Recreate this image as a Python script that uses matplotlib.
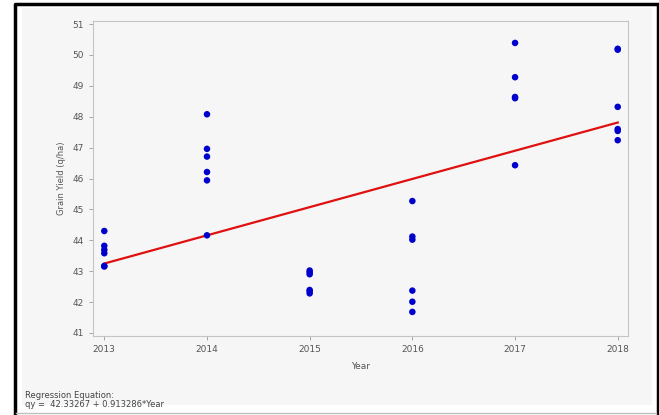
import matplotlib.pyplot as plt
from matplotlib.patches import Rectangle
from matplotlib.lines import Line2D
import numpy as np

years = [2013, 2014, 2015, 2016, 2017, 2018]
y2013 = [44.3, 43.82, 43.69, 43.58, 43.17, 43.15]
y2014 = [48.08, 46.96, 46.71, 46.21, 45.94, 44.16]
y2015 = [43.02, 42.9, 42.39, 42.28, 42.35, 42.96]
y2016 = [45.27, 44.12, 44.02, 42.37, 42.01, 41.68]
y2017 = [50.39, 49.28, 48.64, 48.6, 46.43]
y2018 = [50.17, 50.2, 48.32, 47.6, 47.54, 47.24]
yield_by_year = [y2013, y2014, y2015, y2016, y2017, y2018]

intercept = 42.33267
slope = 0.913286
y_ticks = [41, 42, 43, 44, 45, 46, 47, 48, 49, 50, 51]

W, H = 659, 415
fig = plt.figure(figsize=(W / 100, H / 100), dpi=100)
fig.patch.set_facecolor("white")

# outer frame and light panel (pixel coords -> figure coords)
def px_rect(x0, y0, x1, y1, **kw):
    return Rectangle((x0 / W, 1 - y1 / H), (x1 - x0) / W, (y1 - y0) / H,
                     transform=fig.transFigure, zorder=-10, **kw)

def px_line(xs, ys, **kw):
    return Line2D([x / W for x in xs], [1 - y / H for y in ys],
                  transform=fig.transFigure, zorder=-5, **kw)

fig.patches.append(px_rect(22, 8, 652, 405, facecolor="#f6f6f6", edgecolor="none"))
# black frame on top/left/right, grey line at the bottom
fig.lines.append(px_line([14.5, 14.5, 657.5, 657.5], [415, 4.5, 4.5, 415], color="black", linewidth=2.5))
fig.lines.append(px_line([16, 656], [413, 413], color="#c0c0c0", linewidth=1))

ax = fig.add_axes([93 / W, 1 - 336 / H, (628 - 93) / W, (336 - 21) / H])
ax.set_facecolor("#f6f6f6")

for yr, vals in zip(years, yield_by_year):
    ax.scatter([yr] * len(vals), vals, s=22, color="#0000cc", edgecolors="none", zorder=3)

idx = np.arange(1, len(years) + 1)
ax.plot(years, intercept + slope * idx, color="#e01010", linewidth=1.6, zorder=2)

ax.set_xlim(2012.89, 2018.1)
ax.set_ylim(40.9, 51.1)
ax.set_xticks(years)
ax.set_yticks(y_ticks)
ax.tick_params(labelsize=6.5, colors="#555555", length=3, width=0.6, color="#999999")
for s in ax.spines.values():
    s.set_color("#c4c4c4")
    s.set_linewidth(0.8)

ax.set_xlabel("Year", fontsize=6.5, color="#555555", labelpad=6)
ax.set_ylabel("Grain Yield (q/ha)", fontsize=6, color="#555555", labelpad=5)

fig.text(25 / W, 1 - 395 / H, "Regression Equation:", fontsize=6, color="#444444", va="center")
fig.text(25 / W, 1 - 404 / H, "qy =  42.33267 + 0.913286*Year", fontsize=6, color="#444444", va="center")

fig.savefig("out.png", dpi=100)
